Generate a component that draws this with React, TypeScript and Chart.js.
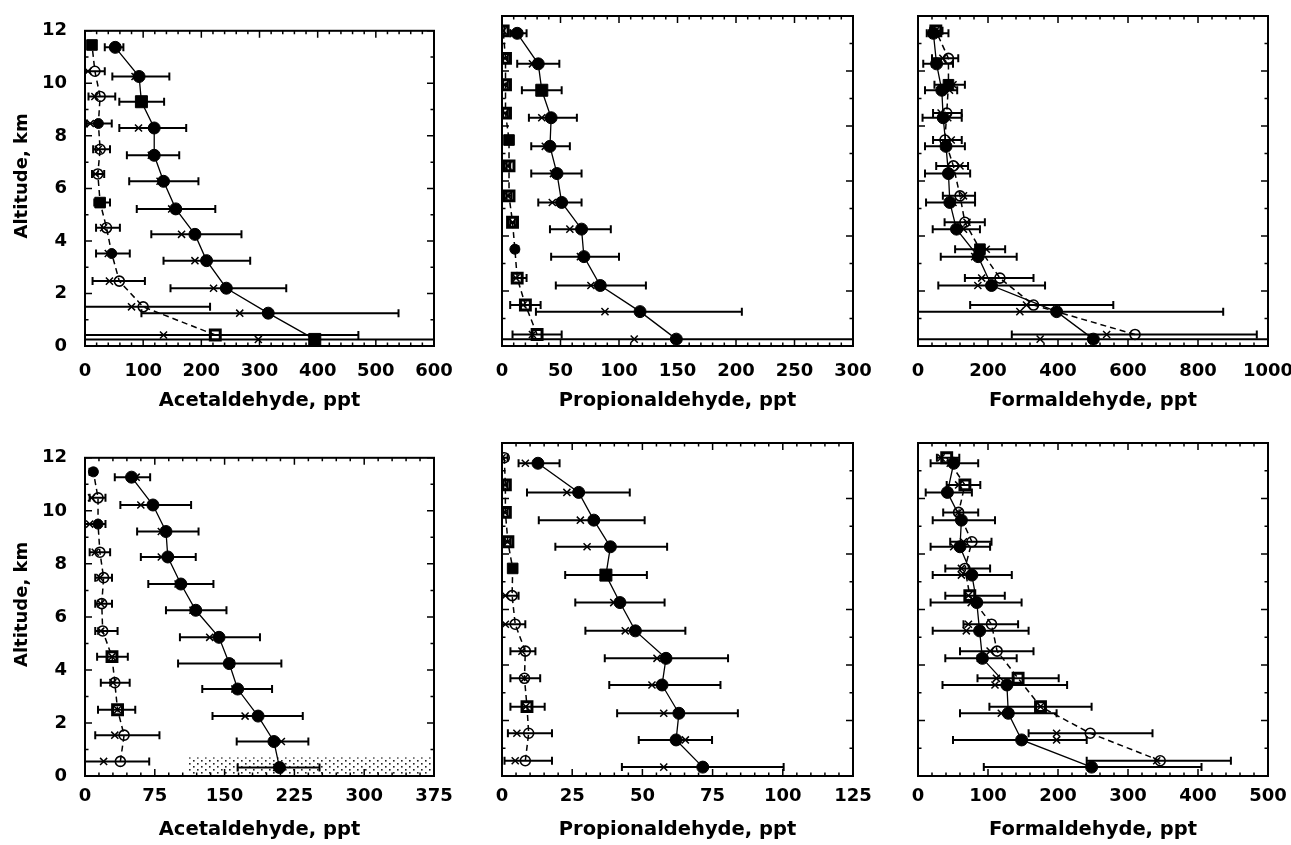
import React, { useEffect, useRef } from "react";
import { Chart, registerables } from "chart.js";
Chart.register(...registerables);

// ---------------- DATA ----------------
// altitudes (km), bottom -> top
const altTopA = [0.25, 1.25, 2.2, 3.25, 4.25, 5.22, 6.27, 7.26, 8.3, 9.3, 10.26, 11.37];
const altTopB = [0.42, 1.49, 2.47, 3.52, 4.5, 5.46, 6.55, 7.49, 8.47, 9.5, 10.46, 11.46];
const altBotA = [0.32, 1.3, 2.26, 3.28, 4.24, 5.23, 6.25, 7.24, 8.26, 9.22, 10.22, 11.27];
const altBotB = [0.55, 1.54, 2.5, 3.52, 4.5, 5.47, 6.5, 7.48, 8.44, 9.5, 10.49, 11.47];

// Top row: Acetaldehyde
const acTopAMean = [395, 315, 243, 209, 189, 156, 135, 119, 119, 97, 93, 52];
const acTopAMed = [298, 266, 221, 189, 166, 149, 129, 114, 92, 95, 86, 50];
const acTopALo = [-60, 97, 147, 135, 114, 89, 76, 72, 59, 59, 47, 34];
const acTopAHi = [700, 539, 346, 284, 269, 224, 195, 162, 174, 136, 145, 66];
const acTopBMean = [224, 100, 59, 46, 37, 26, 22, 26, 23, 26, 17, 12];
const acTopBMed = [135, 80, 42, 40, 32, 24, 18, 23, 9, 17, 5, 10];
const acTopBLo = [-30, -10, 13, 19, 19, 16, 12, 14, 3, 6, -2, 8];
const acTopBHi = [470, 215, 103, 77, 60, 43, 33, 43, 46, 52, 34, 16];

// Top row: Propionaldehyde
const prTopAMean = [149, 118, 84, 70, 68, 51, 47, 41, 42, 34, 31, 13];
const prTopAMed = [113, 88, 76, 67, 58, 43, 44, 37, 34, 33, 26, 10];
const prTopALo = [-30, 29, 46, 42, 41, 31, 25, 25, 23, 17, 13, 7];
const prTopAHi = [400, 205, 123, 100, 93, 68, 68, 58, 64, 51, 49, 21];
const prTopBMean = [30, 20, 13, 11, 9, 6, 6, 6, 3, 3, 3, 1];
const prTopBMed = [26, 18, 12, 11, 9, 5, 5, 5, 2.5, 2.5, 2.5, 1];
const prTopBLo = [9, 7, 8.5, 9, 7, 4, 4, 4, 1, 1, 1, 0];
const prTopBHi = [51, 33, 21, 14, 11, 8, 7, 7, 5, 5, 5, 2];

// Top row: Formaldehyde
const fmTopAMean = [501, 396, 210, 172, 110, 91, 87, 80, 72, 68, 53, 44];
const fmTopAMed = [349, 291, 171, 162, 130, 100, 85, 75, 85, 90, 48, 40];
const fmTopALo = [-60, -20, 58, 65, 42, 23, 20, 20, 13, 20, 15, 25];
const fmTopAHi = [1100, 872, 363, 282, 177, 163, 149, 134, 125, 112, 100, 87];
const fmTopBMean = [620, 330, 234, 177, 134, 120, 101, 77, 82, 87, 87, 51];
const fmTopBMed = [539, 310, 182, 195, 140, 130, 120, 95, 66, 100, 71, 50];
const fmTopBLo = [268, 149, 134, 106, 76, 71, 52, 43, 43, 47, 40, 35];
const fmTopBHi = [968, 558, 330, 249, 191, 163, 143, 125, 125, 134, 115, 70];

// Bottom row: Acetaldehyde
const acBotAMean = [209, 203, 186, 164, 155, 144, 119, 103, 89, 87, 73, 50];
const acBotAMed = [206, 211, 172, 161, 157, 134, 116, 100, 82, 82, 60, 55];
const acBotALo = [164, 163, 137, 126, 100, 102, 87, 68, 60, 56, 38, 32];
const acBotAHi = [252, 240, 234, 201, 211, 188, 152, 138, 119, 122, 114, 70];
const acBotBMean = [38, 42, 35, 32, 29, 19, 18, 20, 16, 14, 14, 9];
const acBotBMed = [20, 32, 35, 30, 29, 17, 17, 16, 11, 5, 7, 8];
const acBotBLo = [0, 11, 14, 17, 13, 11, 11, 11, 5, 0, 5, 5];
const acBotBHi = [69, 80, 54, 48, 46, 35, 29, 29, 27, 22, 22, 12];
const hatchX = [110, 375];
const hatchAlt = [0, 0.7];

// Bottom row: Propionaldehyde
const prBotAMean = [71.5, 62, 63, 57, 58.4, 47.5, 42, 37, 38.6, 32.7, 27.3, 12.8];
const prBotAMed = [57.6, 65.3, 57.6, 53.4, 55.2, 43.9, 39.8, 37, 30.3, 27.9, 23.1, 8.3];
const prBotALo = [42.7, 48.7, 41, 38.2, 36.6, 29.7, 26.1, 22.5, 19, 13.1, 8.9, 5.9];
const prBotAHi = [100.3, 74.8, 84, 77.8, 80.5, 65.3, 57.9, 51.6, 58.8, 50.8, 45.5, 20.5];
const prBotBMean = [8.3, 9.5, 8.9, 8, 8.3, 4.7, 3.6, 3.8, 2.1, 1.2, 1.2, 0.8];
const prBotBMed = [4.7, 5.3, 8.5, 8, 7.1, 1.2, 1.2, 3.8, 2, 1, 1, 0];
const prBotBLo = [0.9, 2.1, 3, 3, 3, 0, 0, 3.5, 1, 0.5, 0.5, 0];
const prBotBHi = [17.8, 17.8, 15.2, 13.6, 11.9, 8.3, 5.9, 4.2, 3, 2, 2, 2];

// Bottom row: Formaldehyde
const fmBotAMean = [248, 148, 129, 127, 92, 88, 84, 77, 60, 62, 42, 51];
const fmBotAMed = [248, 198, 119, 110, 89, 69, 76, 62, 51, 62, 42, 46];
const fmBotALo = [94, 50, 60, 35, 39, 21, 18, 21, 18, 21, 11, 18];
const fmBotAHi = [405, 241, 198, 213, 141, 158, 148, 134, 103, 110, 77, 86];
const fmBotBMean = [346, 246, 175, 143, 113, 105, 74, 67, 77, 58, 67, 41];
const fmBotBMed = [341, 198, 175, 112, 103, 72, 72, 62, 65, 58, 58, 33];
const fmBotBLo = [241, 158, 102, 85, 60, 65, 39, 39, 46, 36, 41, 27];
const fmBotBHi = [447, 335, 248, 201, 165, 143, 124, 103, 105, 86, 89, 59];

// axis ranges / tick steps
const xMaxTop = [600, 300, 1000];
const xStepTop = [100, 50, 200];
const xMaxBot = [375, 125, 500];
const xStepBot = [75, 25, 100];
const xTitles = ["Acetaldehyde, ppt", "Propionaldehyde, ppt", "Formaldehyde, ppt"];
const yMax = 12;
const yStep = 2;
const yTitle = "Altitude, km";

// ---------------- STYLE ----------------
// marker codes: C filled circle, S filled square, c open circle, s open (thick) square
const symTopA = [
  ["S", "C", "C", "C", "C", "C", "C", "C", "C", "S", "C", "C"],
  ["C", "C", "C", "C", "C", "C", "C", "C", "C", "S", "C", "C"],
  ["C", "C", "C", "C", "C", "C", "C", "C", "C", "C", "C", "C"],
];
const symTopB = [
  ["s", "c", "c", "C", "c", "S", "c", "c", "C", "c", "c", "S"],
  ["s", "s", "s", "C", "s", "s", "s", "S", "s", "s", "s", "s"],
  ["c", "c", "c", "S", "c", "c", "c", "c", "c", "S", "c", "s"],
];
const symBotA = [
  ["C", "C", "C", "C", "C", "C", "C", "C", "C", "C", "C", "C"],
  ["C", "C", "C", "C", "C", "C", "C", "S", "C", "C", "C", "C"],
  ["C", "C", "C", "C", "C", "C", "C", "C", "C", "C", "C", "C"],
];
const symBotB = [
  ["c", "c", "s", "c", "s", "c", "c", "c", "c", "C", "c", "C"],
  ["c", "c", "s", "c", "c", "c", "c", "S", "s", "s", "s", "c"],
  ["c", "c", "s", "s", "c", "c", "s", "c", "c", "c", "s", "s"],
];

const FONT = "'DejaVu Sans', 'Liberation Sans', Arial, sans-serif";
const COL_X = [[85, 434], [502, 853], [918, 1268]];
const ROW_Y = [[16, 346], [443, 776]];
const AXIS_H = [75, 68];
const Y_AXIS_W = 85;
const PAD_TOP = 14;
const PAD_RIGHT = 55;

type Panel = {
  row: number; col: number; xMax: number; xStep: number; title: string;
  altA: number[]; altB: number[];
  meanA: number[]; medA: number[]; loA: number[]; hiA: number[];
  meanB: number[]; medB: number[]; loB: number[]; hiB: number[];
  symA: string[]; symB: string[];
  hatch?: number[];
};

const PANELS: Panel[] = [
  { row: 0, col: 0, xMax: xMaxTop[0], xStep: xStepTop[0], title: xTitles[0], altA: altTopA, altB: altTopB,
    meanA: acTopAMean, medA: acTopAMed, loA: acTopALo, hiA: acTopAHi,
    meanB: acTopBMean, medB: acTopBMed, loB: acTopBLo, hiB: acTopBHi, symA: symTopA[0], symB: symTopB[0] },
  { row: 0, col: 1, xMax: xMaxTop[1], xStep: xStepTop[1], title: xTitles[1], altA: altTopA, altB: altTopB,
    meanA: prTopAMean, medA: prTopAMed, loA: prTopALo, hiA: prTopAHi,
    meanB: prTopBMean, medB: prTopBMed, loB: prTopBLo, hiB: prTopBHi, symA: symTopA[1], symB: symTopB[1] },
  { row: 0, col: 2, xMax: xMaxTop[2], xStep: xStepTop[2], title: xTitles[2], altA: altTopA, altB: altTopB,
    meanA: fmTopAMean, medA: fmTopAMed, loA: fmTopALo, hiA: fmTopAHi,
    meanB: fmTopBMean, medB: fmTopBMed, loB: fmTopBLo, hiB: fmTopBHi, symA: symTopA[2], symB: symTopB[2] },
  { row: 1, col: 0, xMax: xMaxBot[0], xStep: xStepBot[0], title: xTitles[0], altA: altBotA, altB: altBotB,
    meanA: acBotAMean, medA: acBotAMed, loA: acBotALo, hiA: acBotAHi,
    meanB: acBotBMean, medB: acBotBMed, loB: acBotBLo, hiB: acBotBHi, symA: symBotA[0], symB: symBotB[0],
    hatch: [hatchX[0], hatchX[1], hatchAlt[0], hatchAlt[1]] },
  { row: 1, col: 1, xMax: xMaxBot[1], xStep: xStepBot[1], title: xTitles[1], altA: altBotA, altB: altBotB,
    meanA: prBotAMean, medA: prBotAMed, loA: prBotALo, hiA: prBotAHi,
    meanB: prBotBMean, medB: prBotBMed, loB: prBotBLo, hiB: prBotBHi, symA: symBotA[1], symB: symBotB[1] },
  { row: 1, col: 2, xMax: xMaxBot[2], xStep: xStepBot[2], title: xTitles[2], altA: altBotA, altB: altBotB,
    meanA: fmBotAMean, medA: fmBotAMed, loA: fmBotALo, hiA: fmBotAHi,
    meanB: fmBotBMean, medB: fmBotBMed, loB: fmBotBLo, hiB: fmBotBHi, symA: symBotA[2], symB: symBotB[2] },
];

function geom(p: Panel) {
  const [x0, x1] = COL_X[p.col];
  const [y0, y1] = ROW_Y[p.row];
  const axisH = AXIS_H[p.row];
  return {
    left: x0 - Y_AXIS_W,
    top: y0 - PAD_TOP,
    width: x1 - x0 + Y_AXIS_W + PAD_RIGHT,
    height: y1 - y0 + PAD_TOP + axisH,
    axisH,
  };
}

function symProps(codes: string[], big: boolean) {
  return {
    pointStyle: codes.map((c) => (c === "s" || c === "S" ? "rect" : "circle")),
    pointRadius: codes.map((c) => (c === "S" ? (big ? 8.5 : 7.5) : c === "s" ? 7 : big ? 6 : 5)),
    pointBackgroundColor: codes.map((c) => (c === "C" || c === "S" ? "#000" : "rgba(0,0,0,0)")),
    pointBorderWidth: codes.map((c) => (c === "s" ? 3 : c === "c" ? 1.6 : 1)),
    pointBorderColor: "#000",
  };
}

function makePattern(ctx: CanvasRenderingContext2D) {
  const c = document.createElement("canvas");
  c.width = 8;
  c.height = 6;
  const g = c.getContext("2d")!;
  g.fillStyle = "#222";
  g.fillRect(1, 1, 1.6, 1.6);
  g.fillRect(5, 4, 1.6, 1.6);
  return ctx.createPattern(c, "repeat")!;
}

function makeDecor(p: Panel) {
  return {
    id: "decor",
    beforeDatasetsDraw(chart: any) {
      const { ctx, chartArea: ca, scales } = chart;
      const xs = scales.x;
      const ys = scales.y;
      ctx.save();
      ctx.beginPath();
      ctx.rect(ca.left, ca.top, ca.right - ca.left, ca.bottom - ca.top);
      ctx.clip();
      if (p.hatch) {
        const hx0 = xs.getPixelForValue(p.hatch[0]);
        const hx1 = xs.getPixelForValue(p.hatch[1]);
        const hy0 = ys.getPixelForValue(p.hatch[2]);
        const hy1 = ys.getPixelForValue(p.hatch[3]);
        ctx.fillStyle = makePattern(ctx);
        ctx.fillRect(hx0, hy1, hx1 - hx0, hy0 - hy1);
      }
      ctx.strokeStyle = "#000";
      ctx.lineWidth = 2;
      ctx.setLineDash([]);
      chart.data.datasets.forEach((ds: any) => {
        if (!ds.errLo) return;
        ds.data.forEach((pt: any, i: number) => {
          const py = ys.getPixelForValue(pt.y);
          const a = xs.getPixelForValue(ds.errLo[i]);
          const b = xs.getPixelForValue(ds.errHi[i]);
          ctx.beginPath();
          ctx.moveTo(a, py);
          ctx.lineTo(b, py);
          ctx.moveTo(a, py - 4);
          ctx.lineTo(a, py + 4);
          ctx.moveTo(b, py - 4);
          ctx.lineTo(b, py + 4);
          ctx.stroke();
        });
      });
      ctx.restore();
    },
    afterDraw(chart: any) {
      const { ctx, chartArea: ca, scales } = chart;
      const xs = scales.x;
      const ys = scales.y;
      ctx.save();
      ctx.strokeStyle = "#000";
      ctx.setLineDash([]);
      ctx.lineWidth = 1.5;
      const minorX = p.xStep / 5;
      ctx.beginPath();
      for (let k = 0; k * minorX <= p.xMax + 1e-9; k++) {
        const v = k * minorX;
        const px = xs.getPixelForValue(v);
        const len = k % 5 === 0 ? 7 : 3.5;
        ctx.moveTo(px, ca.bottom);
        ctx.lineTo(px, ca.bottom - len);
        ctx.moveTo(px, ca.top);
        ctx.lineTo(px, ca.top + len);
      }
      for (let v = 0; v <= yMax + 1e-9; v += 1) {
        const py = ys.getPixelForValue(v);
        const len = v % yStep === 0 ? 7 : 3.5;
        ctx.moveTo(ca.left, py);
        ctx.lineTo(ca.left + len, py);
        ctx.moveTo(ca.right, py);
        ctx.lineTo(ca.right - len, py);
      }
      ctx.stroke();
      ctx.lineWidth = 2;
      ctx.strokeRect(ca.left, ca.top, ca.right - ca.left, ca.bottom - ca.top);
      ctx.restore();
    },
  };
}

function buildConfig(p: Panel): any {
  const g = geom(p);
  const showY = p.col === 0;
  const datasets = [
    {
      label: "mean A",
      data: p.altA.map((y, i) => ({ x: p.meanA[i], y })),
      showLine: true,
      borderColor: "#000",
      borderWidth: 1.3,
      ...symProps(p.symA, true),
      errLo: p.loA,
      errHi: p.hiA,
      clip: 0,
    },
    {
      label: "median A",
      data: p.altA.map((y, i) => ({ x: p.medA[i], y })),
      showLine: false,
      pointStyle: "crossRot",
      pointRadius: 5,
      pointBorderWidth: 1.5,
      pointBorderColor: "#000",
      clip: 0,
    },
    {
      label: "mean B",
      data: p.altB.map((y, i) => ({ x: p.meanB[i], y })),
      showLine: true,
      borderColor: "#000",
      borderWidth: 1.5,
      borderDash: [6, 4],
      ...symProps(p.symB, false),
      errLo: p.loB,
      errHi: p.hiB,
      clip: 0,
    },
    {
      label: "median B",
      data: p.altB.map((y, i) => ({ x: p.medB[i], y })),
      showLine: false,
      pointStyle: "crossRot",
      pointRadius: 5,
      pointBorderWidth: 1.5,
      pointBorderColor: "#000",
      clip: 0,
    },
  ];
  return {
    type: "scatter",
    data: { datasets },
    options: {
      responsive: false,
      animation: false,
      events: [],
      layout: { padding: { left: 0, top: PAD_TOP, right: PAD_RIGHT, bottom: 0 } },
      plugins: { legend: { display: false }, tooltip: { enabled: false } },
      scales: {
        x: {
          type: "linear",
          min: 0,
          max: p.xMax,
          afterFit: (s: any) => {
            s.height = g.axisH;
          },
          ticks: {
            stepSize: p.xStep,
            color: "#000",
            font: { family: FONT, size: 18, weight: "bold" },
            padding: p.row === 0 ? 15 : 10,
            maxRotation: 0,
            autoSkip: false,
            callback: (v: any) => String(v),
          },
          grid: { display: false, drawTicks: false },
          border: { display: false },
          title: {
            display: true,
            text: p.title,
            color: "#000",
            font: { family: FONT, size: 19.5, weight: "bold" },
            padding: { top: 0, bottom: p.row === 0 ? 8 : 2 },
          },
        },
        y: {
          type: "linear",
          min: 0,
          max: yMax,
          afterFit: (s: any) => {
            s.width = Y_AXIS_W;
          },
          ticks: {
            display: showY,
            stepSize: yStep,
            color: "#000",
            font: { family: FONT, size: 18, weight: "bold" },
            padding: 18,
            callback: (v: any) => String(v),
          },
          grid: { display: false, drawTicks: false },
          border: { display: false },
          title: {
            display: showY,
            text: "    " + yTitle,
            color: "#000",
            font: { family: FONT, size: 18, weight: "bold" },
            padding: { top: 12, bottom: 0 },
          },
        },
      },
    },
    plugins: [makeDecor(p)],
  };
}

export default function App() {
  const refs = useRef<(HTMLCanvasElement | null)[]>([]);
  useEffect(() => {
    const charts = PANELS.map((p, i) => new Chart(refs.current[i] as HTMLCanvasElement, buildConfig(p)));
    return () => charts.forEach((c) => c.destroy());
  }, []);
  return (
    <div
      style={{
        position: "absolute",
        left: 0,
        top: 0,
        width: 1291,
        height: 845,
        overflow: "hidden",
        background: "#fff",
      }}
    >
      {PANELS.map((p, i) => {
        const g = geom(p);
        return (
          <canvas
            key={i}
            ref={(el) => {
              refs.current[i] = el;
            }}
            width={g.width}
            height={g.height}
            style={{ position: "absolute", left: g.left, top: g.top, width: g.width, height: g.height }}
          />
        );
      })}
    </div>
  );
}
